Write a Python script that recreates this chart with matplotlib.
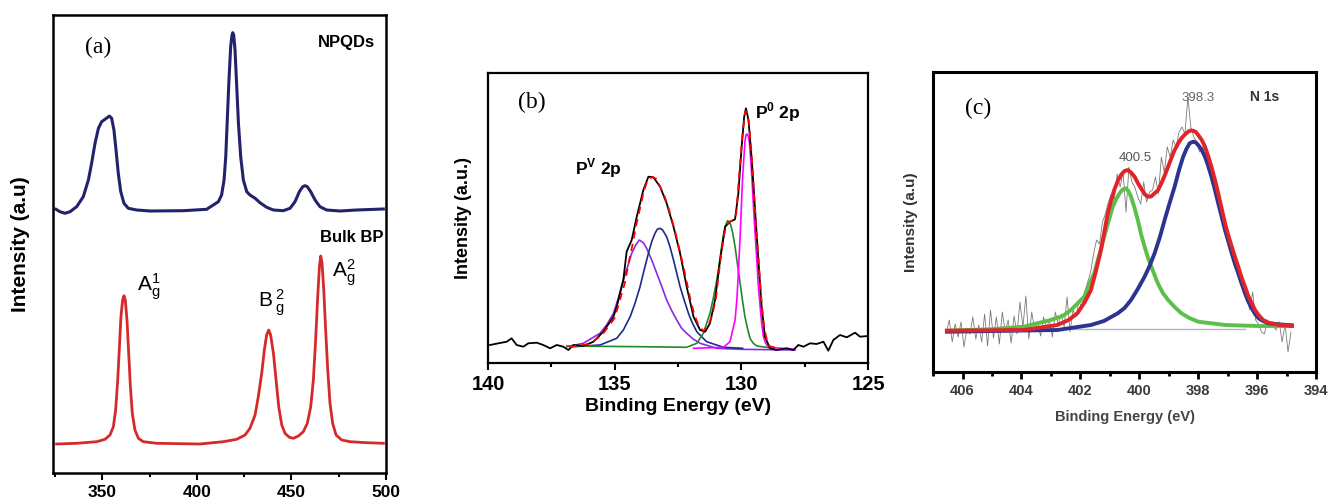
import matplotlib
matplotlib.use("Agg")
import matplotlib.pyplot as plt
from matplotlib.ticker import MultipleLocator

plt.rcParams["font.family"] = ["Liberation Sans", "DejaVu Sans"]
plt.rcParams["mathtext.fontset"] = "custom"
plt.rcParams["mathtext.rm"] = "Liberation Sans"

# ── (a) Raman spectra, intensity (arb. units) ───────────────────────────
raman_shift_npqd = [325.6, 327.7, 330.3, 333.0, 336.5, 340.0, 342.7, 344.4, 346.2, 348.0,
                    349.7, 351.5, 353.8, 355.0, 356.2, 357.3, 358.5, 359.8, 361.5, 363.8,
                    368.2, 375.3, 392.9, 405.2, 411.4, 413.1, 414.4, 415.3, 416.1, 417.0,
                    417.9, 418.6, 419.0, 419.5, 420.2, 421.1, 422.0, 423.2, 424.6, 426.4,
                    428.1, 430.8, 433.4, 436.9, 440.5, 445.7, 449.3, 451.9, 454.2, 456.0,
                    457.2, 458.4, 460.2, 462.5, 465.1, 468.6, 475.7, 484.5, 498.6]
intensity_npqd = [263.7, 261.3, 259.7, 261.3, 266.3, 276.3, 293, 309.7, 329.7, 344.7,
                  351.3, 353.7, 357, 354.7, 343, 323, 299.7, 281.3, 269.7, 264.7,
                  263, 262, 262.3, 263.7, 271.3, 278, 293, 316.3, 353, 393,
                  426.3, 438, 440.3, 438, 423, 386.3, 349.7, 316.3, 293, 281.3,
                  278, 274.7, 270.3, 265.7, 263, 262.3, 264.7, 271.3, 281.3, 286.3,
                  287.3, 286.3, 281.3, 273, 266.3, 263, 262, 263, 264]

raman_shift_bulk = [325.9, 336.5, 347.1, 351.5, 354.1, 355.9, 357.1, 358.2, 359.1, 359.9,
                    360.8, 361.5, 362.2, 363.1, 364.0, 364.9, 365.9, 367.3, 369.1, 371.7,
                    378.8, 401.7, 414.0, 421.1, 425.5, 428.1, 430.8, 432.5, 434.3, 435.7,
                    436.9, 438.0, 439.0, 440.5, 441.9, 443.3, 444.9, 446.6, 448.9, 451.0,
                    453.7, 456.3, 458.4, 460.2, 461.6, 462.8, 463.9, 464.8, 465.5, 466.2,
                    467.1, 468.1, 469.2, 470.4, 471.8, 473.6, 476.6, 481.0, 489.8, 498.6]
intensity_bulk = [29, 29.7, 31.3, 33.7, 38, 46.3, 63, 93, 126.3, 156.3,
                  173, 177.3, 173, 153, 119.7, 86.3, 59.7, 43, 34.7, 31.3,
                  29.7, 29, 31.3, 33.7, 38, 44.7, 58, 76.3, 99.7, 123,
                  138, 143, 138, 119.7, 93, 66.3, 48, 39.7, 35.7, 34.7,
                  37, 41.3, 49.7, 66.3, 93, 133, 176.3, 206.3, 217, 209.7,
                  183, 143, 103, 69.7, 49.7, 38, 33, 31.3, 30.3, 29.7]

# ── (b) P 2p XPS ─────────────────────────────────────────────────────────
p2p_be = [139.92, 139.59, 139.26, 139.07, 138.87, 138.61, 138.41, 138.08, 137.82, 137.55,
          137.29, 137.03, 136.83, 136.63, 136.24, 135.84, 135.45, 135.05, 134.92, 134.66,
          134.53, 134.33, 134.13, 133.87, 133.67, 133.47, 133.21, 132.95, 132.68, 132.42,
          132.16, 131.89, 131.63, 131.43, 131.24, 131.04, 130.84, 130.64, 130.45, 130.25,
          130.12, 129.99, 129.89, 129.82, 129.72, 129.59, 129.46, 129.33, 129.20, 129.07,
          128.87, 128.61, 128.21, 127.95, 127.75, 127.55, 127.29, 127.03, 126.76, 126.57,
          126.37, 126.11, 125.84, 125.51, 125.32, 125.00]
p2p_raw = [18, 19.7, 21.3, 24.7, 18, 16.3, 19.7, 20.3, 18, 14.7,
           18, 16.3, 13, 18, 17, 21.3, 31.3, 46.3, 56.3, 83,
           111.3, 123, 146.3, 173, 186.3, 185.7, 176.3, 159.7, 136.3, 109.7,
           76.3, 46.3, 33, 31.3, 39.7, 63, 103, 136.3, 141.3, 143.7,
           169.7, 216.3, 246.3, 254.7, 243, 203, 153, 103, 56.3, 26.3,
           14.7, 13, 14.7, 13, 18, 16.3, 19.7, 19, 21.3, 12.3,
           23, 28, 25.7, 30.3, 26.3, 27]

fit_be = [136.8, 136.0, 135.5, 135.0, 134.6, 134.45, 134.3, 134.15, 134.0, 133.85,
          133.7, 133.5, 133.35, 133.2, 133.05, 132.9, 132.75, 132.6, 132.45, 132.3,
          132.15, 132.0, 131.85, 131.7, 131.5, 131.3, 131.15, 131.0, 130.9, 130.8,
          130.7, 130.6, 130.5, 130.4, 130.3, 130.2, 130.1, 130.0, 129.95, 129.85,
          129.78, 129.7, 129.6, 129.5, 129.4, 129.3, 129.2, 129.1, 129.0, 128.9, 128.5]
fit_sum = [16, 19, 28, 45, 80, 100, 118, 138, 155, 172,
           183, 186, 184, 176, 168, 157, 144, 130, 114, 98,
           80, 62, 48, 38, 32, 38, 48, 65, 88, 108,
           126, 137, 141, 142, 143, 150, 185, 215, 230, 252,
           250, 240, 210, 170, 130, 95, 60, 35, 24, 17, 14]

pv1_be = [136.89, 136.24, 135.58, 135.32, 135.05, 134.86, 134.66, 134.49, 134.33, 134.17,
          134.03, 133.87, 133.74, 133.54, 133.34, 133.14, 132.95, 132.75, 132.55, 132.36,
          132.16, 131.89, 131.63, 130.97, 130.05, 127.88]
pv1 = [16.3, 19.7, 29.7, 38, 49.7, 64.7, 83, 96.3, 109.7, 118,
       123, 120.3, 114.7, 103, 89.7, 76.3, 63, 52.3, 43, 34.7,
       29.7, 23.7, 19.7, 14.7, 13.7, 13]

pv2_be = [136.63, 135.58, 134.92, 134.66, 134.39, 134.2, 134.0, 133.84, 133.67, 133.54,
          133.41, 133.32, 133.21, 133.11, 132.95, 132.82, 132.68, 132.55, 132.42, 132.26,
          132.09, 131.93, 131.76, 131.57, 131.37, 130.71, 129.95]
pv2 = [16.3, 18, 24.7, 33, 46.3, 59.7, 76.3, 93, 109.7, 121.3,
       129.7, 133.7, 134.7, 133, 126.3, 116.3, 103, 89.7, 76.3, 63,
       49.7, 39.7, 31.3, 26.3, 21.3, 15.7, 14.7]

p0a_be = [136.89, 134.0, 132.16, 131.76, 131.5, 131.24, 131.11, 130.97, 130.87, 130.78,
          130.71, 130.64, 130.55, 130.49, 130.42, 130.34, 130.25, 130.16, 130.05, 129.95,
          129.86, 129.76, 129.66, 129.53, 129.39, 128.74]
p0a = [17, 16.3, 15.7, 19.7, 29.7, 49.7, 64.7, 83, 99.7, 116.3,
       128, 136.3, 142.3, 141.3, 138, 129.7, 116.3, 99.7, 79.7, 61.3,
       46.3, 34.7, 24.7, 19.7, 17, 14.7]

p0b_be = [131.89, 130.71, 130.45, 130.25, 130.18, 130.12, 130.05, 129.99, 129.95, 129.89,
          129.86, 129.82, 129.78, 129.72, 129.68, 129.63, 129.58, 129.53, 129.46, 129.39,
          129.33, 129.26, 129.2, 129.13, 129.04, 128.93, 127.88]
p0b = [14.7, 15.7, 21.3, 43, 63, 89.7, 126.3, 163, 186.3, 209.7,
       221.3, 228, 229, 226.3, 219.7, 203, 183, 159.7, 129.7, 103,
       76.3, 56.3, 39.7, 26.3, 19.7, 15.7, 13.7]

# ── (c) N 1s XPS ─────────────────────────────────────────────────────────
n1s_raw_be = [406.55, 406.45, 406.35, 406.25, 406.15, 406.05, 405.95, 405.85, 405.75, 405.65,
              405.55, 405.45, 405.35, 405.25, 405.15, 405.05, 404.95, 404.85, 404.75, 404.65,
              404.55, 404.45, 404.35, 404.25, 404.15, 404.05, 403.95, 403.85, 403.75, 403.65,
              403.55, 403.45, 403.35, 403.25, 403.15, 403.05, 402.95, 402.85, 402.75, 402.65,
              402.55, 402.45, 402.35, 402.25, 402.15, 402.05, 401.95, 401.85, 401.75, 401.65,
              401.55, 401.45, 401.35, 401.25, 401.15, 401.05, 400.95, 400.85, 400.75, 400.65,
              400.55, 400.45, 400.35, 400.25, 400.15, 400.05, 399.95, 399.85, 399.75, 399.65,
              399.55, 399.45, 399.35, 399.25, 399.15, 399.05, 398.95, 398.85, 398.75, 398.65,
              398.55, 398.45, 398.35, 398.25, 398.15, 398.05, 397.95, 397.85, 397.75, 397.65,
              397.55, 397.45, 397.35, 397.25, 397.15, 397.05, 396.95, 396.85, 396.75, 396.65,
              396.55, 396.45, 396.35, 396.25, 396.15, 396.05, 395.95, 395.85, 395.75, 395.65,
              395.55, 395.45, 395.35, 395.25, 395.15, 395.05, 394.95, 394.85]
n1s_raw = [40, 52, 30, 48, 35, 50, 25, 44, 38, 55,
           33, 47, 30, 58, 26, 62, 34, 55, 28, 60,
           40, 52, 29, 56, 38, 70, 45, 76, 33, 60,
           42, 50, 36, 55, 44, 52, 35, 60, 48, 58,
           45, 75, 40, 62, 55, 70, 65, 80, 90, 100,
           118, 132, 128, 150, 158, 170, 178, 172, 198, 185,
           200, 160, 205, 190, 185, 175, 168, 190, 170, 180,
           182, 195, 178, 215, 200, 225, 215, 232, 225, 240,
           245, 238, 275, 245, 235, 230, 220, 225, 212, 215,
           200, 195, 178, 170, 150, 145, 128, 125, 110, 100,
           95, 82, 75, 62, 80, 52, 48, 40, 38, 52,
           48, 45, 42, 50, 30, 48, 20, 40]

n1s_env_be = [406.53, 403.92, 402.78, 402.4, 402.10, 401.85, 401.64, 401.47, 401.30, 401.18,
              401.07, 400.96, 400.85, 400.73, 400.62, 400.5, 400.39, 400.28, 400.16, 400.05,
              399.94, 399.82, 399.71, 399.6, 399.48, 399.36, 399.25, 399.13, 399.02, 398.91,
              398.80, 398.68, 398.57, 398.45, 398.34, 398.25, 398.17, 398.08, 398.0, 397.88,
              397.77, 397.66, 397.55, 397.43, 397.32, 397.2, 397.09, 396.97, 396.86, 396.75,
              396.64, 396.52, 396.41, 396.3, 396.18, 396.07, 395.95, 395.8, 395.61, 395.4,
              395.27, 395.0, 394.82]
n1s_env = [41.3, 42, 47, 52, 58.7, 70, 82, 101, 122, 141,
           158.7, 171, 182, 191, 197, 201, 202, 199.5, 195.3, 189,
           183.7, 178, 175.3, 175.5, 178.7, 182, 188.7, 197, 205.3, 214,
           222, 228.5, 233.7, 237.5, 240.3, 241.5, 241.3, 240, 237, 232,
           225.3, 216, 205.3, 192, 178.7, 163, 148.7, 136, 125.3, 115,
           105.3, 94, 85.3, 76, 68.7, 62, 57, 52, 49.3, 48,
           47, 46.5, 46]

n_green_be = [406.53, 405.05, 403.92, 403.01, 402.6, 402.32, 401.87, 401.7, 401.53, 401.35,
              401.19, 401.05, 400.90, 400.78, 400.67, 400.56, 400.45, 400.36, 400.28, 400.17,
              400.05, 399.94, 399.82, 399.7, 399.59, 399.37, 399.2, 399.02, 398.8, 398.57,
              398.3, 398.0, 397.5, 397.09, 395.95, 394.82]
n_green = [41.3, 42.7, 45.3, 52, 56, 62, 75.3, 88, 98.7, 118,
           135.3, 150, 165.3, 173, 178.7, 182.5, 183.7, 180.5, 175.3, 165,
           152, 138, 125.3, 114, 105.3, 88.7, 79, 72, 65, 58.7,
           54, 50.3, 48.5, 47, 46, 46]

n_blue_be = [406.53, 402.78, 401.64, 401.2, 400.73, 400.5, 400.28, 400.05, 399.82, 399.65,
             399.48, 399.3, 399.14, 398.97, 398.80, 398.65, 398.51, 398.4, 398.29, 398.17,
             398.08, 398.0, 397.88, 397.77, 397.66, 397.55, 397.43, 397.32, 397.2, 397.09,
             396.97, 396.86, 396.75, 396.64, 396.52, 396.41, 396.3, 396.18, 396.07, 395.95,
             395.8, 395.61, 395.2, 394.82]
n_blue = [40.3, 42, 47, 51, 58.7, 64, 72, 83, 95.3, 106,
          118.7, 135, 152, 169, 185.3, 202, 215.3, 223, 228.7, 230.3,
          229.5, 227, 222, 215.3, 206, 195.3, 182, 168.7, 155, 142,
          130, 118.7, 108, 98.7, 88, 78.7, 70.5, 63.7, 58, 53.7,
          51, 48.7, 47.5, 46.7]

n_base_be = [402.3, 396.4]
n_base = [42.7, 42.7]

fig = plt.figure(figsize=(13.32, 5.0), dpi=100)


def frame(ax, lw):
    for s in ax.spines.values():
        s.set_linewidth(lw)
    ax.set_yticks([])


# ── panel (a) ──
ax = fig.add_axes([0.0398, 0.054, 0.25, 0.916])
ax.plot(raman_shift_npqd, intensity_npqd, color="#23236b", lw=2.2)
ax.plot(raman_shift_bulk, intensity_bulk, color="#d42a2a", lw=2.0)
ax.set_xlim(324, 500)
ax.set_ylim(0, 458)
ax.xaxis.set_major_locator(MultipleLocator(50))
ax.xaxis.set_minor_locator(MultipleLocator(25))
ax.tick_params(axis="x", which="major", direction="out", length=5, width=1.5)
ax.tick_params(axis="x", which="minor", direction="out", length=3, width=1.5)
for t in ax.get_xticklabels():
    t.set_fontweight("bold")
    t.set_fontsize(12.5)
frame(ax, 1.8)
ax.set_ylabel("Intensity (a.u)", fontsize=15, fontweight="bold")
ax.yaxis.set_label_coords(-0.069, 0.5)
ax.text(0.135, 0.93, "(a)", transform=ax.transAxes, ha="center", va="center",
        fontsize=17, family="Liberation Serif")
ax.text(0.967, 0.939, "NPQDs", transform=ax.transAxes, ha="right", va="center",
        fontsize=12, fontweight="bold")
ax.text(0.991, 0.515, "Bulk BP", transform=ax.transAxes, ha="right", va="center",
        fontsize=12, fontweight="bold")
ax.text(0.252, 0.406, r"$\mathregular{A^{1}_{g}}$", transform=ax.transAxes,
        ha="left", va="center", fontsize=15)
ax.text(0.616, 0.371, r"$\mathregular{B\,^{2}_{g}}$", transform=ax.transAxes,
        ha="left", va="center", fontsize=15)
ax.text(0.838, 0.437, r"$\mathregular{A^{2}_{g}}$", transform=ax.transAxes,
        ha="left", va="center", fontsize=15)

# ── panel (b) ──
ax = fig.add_axes([0.3664, 0.274, 0.2853, 0.58])
ax.plot(pv1_be, pv1, color="#8a2be2", lw=1.2)
ax.plot(pv2_be, pv2, color="#1c2a8c", lw=1.2)
ax.plot(p0a_be, p0a, color="#1f8a2a", lw=1.2)
ax.plot(p0b_be, p0b, color="#ff00ff", lw=1.2)
ax.plot(p2p_be, p2p_raw, color="black", lw=1.3)
ax.plot(fit_be, fit_sum, color="red", lw=1.3, dashes=(4, 3))
ax.set_xlim(140, 125)
ax.set_ylim(0, 290)
ax.xaxis.set_major_locator(MultipleLocator(5))
ax.xaxis.set_minor_locator(MultipleLocator(2.5))
ax.tick_params(axis="x", which="major", direction="out", length=5, width=1.5)
ax.tick_params(axis="x", which="minor", direction="out", length=3, width=1.5)
for t in ax.get_xticklabels():
    t.set_fontweight("bold")
    t.set_fontsize(14.5)
frame(ax, 1.6)
ax.set_ylabel("Intensity (a.u.)", fontsize=13, fontweight="bold")
ax.yaxis.set_label_coords(-0.042, 0.5)
ax.set_xlabel("Binding Energy (eV)", fontsize=14, fontweight="bold")
ax.xaxis.set_label_coords(0.5, -0.12)
ax.text(0.116, 0.897, "(b)", transform=ax.transAxes, ha="center", va="center",
        fontsize=17, family="Liberation Serif")
ax.text(0.229, 0.672, r"P$^{\mathregular{V}}$ 2p", transform=ax.transAxes,
        ha="left", va="center", fontsize=12.5, fontweight="bold")
ax.text(0.703, 0.866, r"P$^{\mathregular{0}}$ 2p", transform=ax.transAxes,
        ha="left", va="center", fontsize=12.5, fontweight="bold")

# ── panel (c) ──
ax = fig.add_axes([0.7005, 0.256, 0.2875, 0.6])
ax.plot(n1s_raw_be, n1s_raw, color="#7a7a7a", lw=0.6)
ax.plot(n_base_be, n_base, color="#b0b4c8", lw=1.0)
ax.plot(n_green_be, n_green, color="#5cbf4a", lw=2.8)
ax.plot(n_blue_be, n_blue, color="#2b3590", lw=2.8)
ax.plot(n1s_env_be, n1s_env, color="#e0242a", lw=2.8)
ax.set_xlim(407, 394)
ax.set_ylim(0, 300)
ax.xaxis.set_major_locator(MultipleLocator(2))
ax.xaxis.set_minor_locator(MultipleLocator(1))
ax.tick_params(axis="x", which="major", direction="out", length=5, width=2,
               labelcolor="#3a3a3a")
ax.tick_params(axis="x", which="minor", direction="out", length=3, width=2)
for t in ax.get_xticklabels():
    t.set_fontweight("bold")
    t.set_fontsize(10.5)
frame(ax, 2.2)
ax.set_ylabel("Intensity (a.u)", fontsize=11, fontweight="bold", color="#333333")
ax.yaxis.set_label_coords(-0.039, 0.5)
ax.set_xlabel("Binding Energy (eV)", fontsize=10.5, fontweight="bold", color="#444444")
ax.xaxis.set_label_coords(0.5, -0.127)
ax.text(0.117, 0.88, "(c)", transform=ax.transAxes, ha="center", va="center",
        fontsize=17, family="Liberation Serif")
ax.text(0.692, 0.913, "398.3", transform=ax.transAxes, ha="center", va="center",
        fontsize=9.5, color="#666666")
ax.text(0.527, 0.713, "400.5", transform=ax.transAxes, ha="center", va="center",
        fontsize=9.5, color="#555555")
ax.text(0.867, 0.917, "N 1s", transform=ax.transAxes, ha="center", va="center",
        fontsize=10, fontweight="bold", color="#333333")

fig.savefig("out.png", dpi=100)
